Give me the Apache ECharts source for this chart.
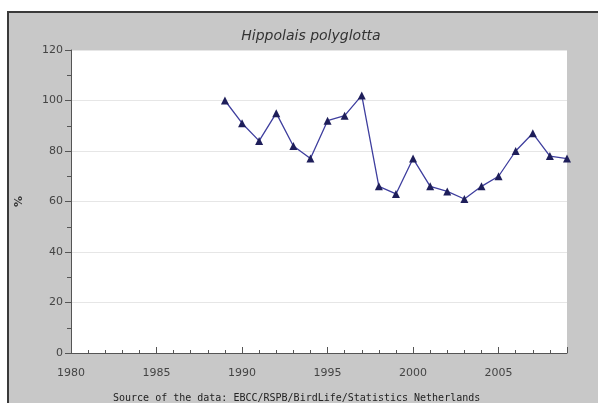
<!DOCTYPE html>
<html>
<head>
<meta charset="utf-8">
<script src="https://cdn.jsdelivr.net/npm/echarts@6/dist/echarts.min.js"></script>
<style>html,body{margin:0;padding:0;background:#fff;}#c{width:598px;height:403px;}</style>
</head>
<body>
<div id="c"></div>
<script>
const years = [1989,1990,1991,1992,1993,1994,1995,1996,1997,1998,1999,2000,2001,2002,2003,2004,2005,2006,2007,2008,2009];
const values = [100,91,84,95,82,77,92,94,102,66,63,77,66,64,61,66,70,80,87,78,77];
const titleText = 'Hippolais polyglotta';
const sourceText = 'Source of the data: EBCC/RSPB/BirdLife/Statistics Netherlands';
const yName = '%';

const chart = echarts.init(document.getElementById('c'), null, {renderer: 'canvas'});
const axisColor = '#555';
const labelFont = {color: '#444', fontSize: 11, fontFamily: 'DejaVu Sans'};
chart.setOption({
  animation: false,
  backgroundColor: '#fff',
  graphic: [
    {type: 'rect', z: -10, shape: {x: 8, y: 12, width: 600, height: 400},
     style: {fill: '#c8c8c8', stroke: '#3a3a3a', lineWidth: 2}},
    {type: 'text', left: 113, top: 393, z: 10,
     style: {text: sourceText, fill: '#222', font: '10px "DejaVu Sans Mono"'}}
  ],
  title: {text: titleText, left: 306, top: 24, textAlign: 'center',
    textStyle: {fontFamily: 'DejaVu Sans', fontStyle: 'italic', fontWeight: 'normal', fontSize: 14, color: '#333'}},
  grid: {left: 71, right: 31, top: 50, bottom: 50, show: true, backgroundColor: '#fff', borderWidth: 0},
  xAxis: [
    {type: 'value', min: 1980, max: 2009, interval: 1,
     axisLine: {lineStyle: {color: axisColor, width: 1}},
     axisTick: {inside: true, length: 3, lineStyle: {color: axisColor}},
     axisLabel: {...labelFont, margin: 15, formatter: v => (v % 5 === 0 ? String(v) : '')},
     splitLine: {show: false}},
    {type: 'value', min: 1980, max: 2009, interval: 5, position: 'bottom',
     axisLine: {show: false},
     axisTick: {inside: true, length: 6, lineStyle: {color: axisColor}},
     axisLabel: {show: false}, splitLine: {show: false}}
  ],
  yAxis: {type: 'value', min: 0, max: 120, interval: 20,
    name: yName, nameLocation: 'middle', nameGap: 46, nameRotate: 90,
    nameTextStyle: {color: '#333', fontSize: 11, fontFamily: 'DejaVu Sans', fontWeight: 'bold'},
    axisLine: {show: true, lineStyle: {color: axisColor, width: 1}},
    axisTick: {show: true, inside: false, length: 6, lineStyle: {color: axisColor}},
    minorTick: {show: true, splitNumber: 2, length: 4, lineStyle: {color: axisColor}},
    axisLabel: {...labelFont, margin: 8},
    splitLine: {show: true, lineStyle: {color: '#e6e6e6', width: 1}}},
  series: [{
    type: 'line', xAxisIndex: 0,
    data: years.map((y, i) => [y, values[i]]),
    symbol: 'triangle', symbolSize: 8, showAllSymbol: true,
    lineStyle: {color: '#3e3e9e', width: 1.3},
    itemStyle: {color: '#1e1e5a'}
  }]
});
</script>
</body>
</html>
